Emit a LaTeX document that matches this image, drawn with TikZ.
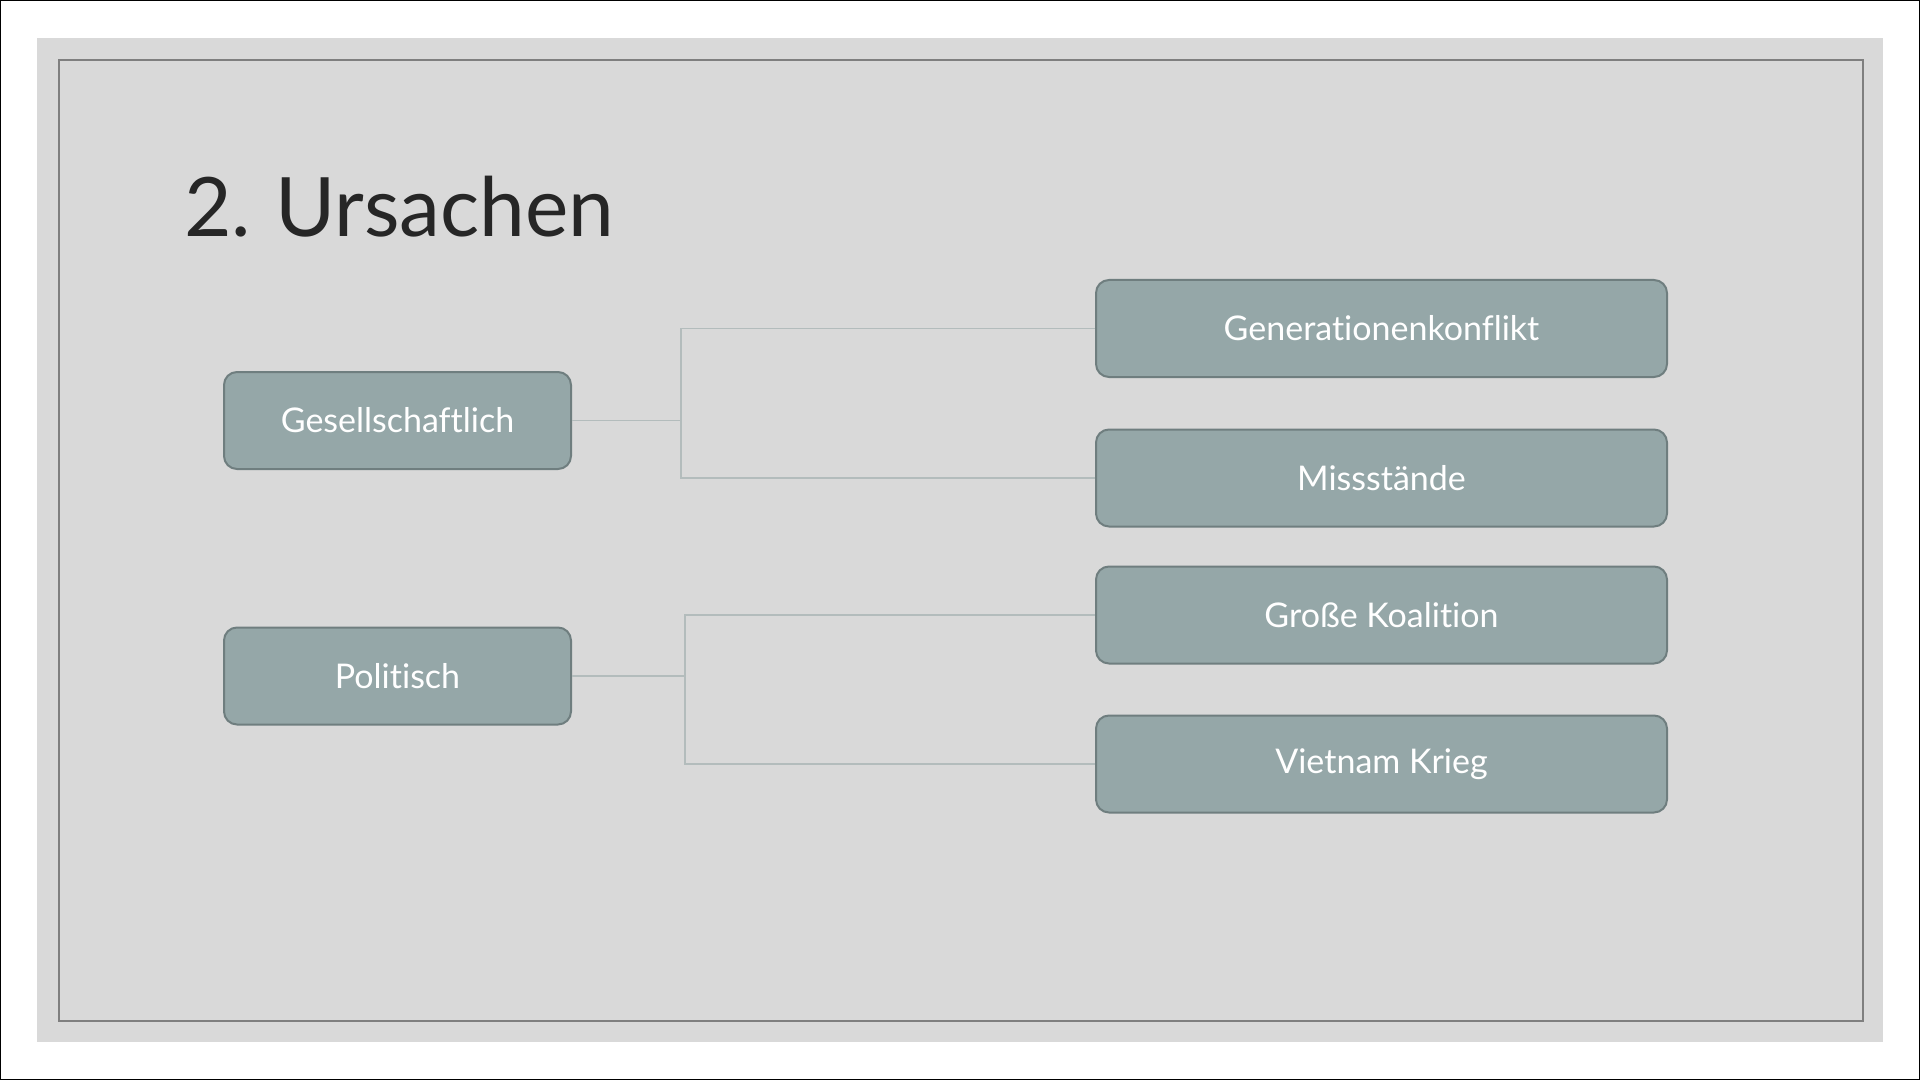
\documentclass[tikz,border=0pt]{standalone}
\usepackage{fontspec}
\setmainfont{Lato}[Ligatures=NoCommon]
\usepackage{xcolor}
\usepackage{tikz}
\definecolor{slidegray}{HTML}{D9D9D9}
\definecolor{framegray}{HTML}{7F7F7F}
\definecolor{boxfill}{HTML}{95A7A8}
\definecolor{boxline}{HTML}{6F7E7F}
\definecolor{linkgray}{HTML}{B3BCBC}
\definecolor{titleink}{HTML}{262626}

\begin{document}
\begin{tikzpicture}[x=0.5pt, y=-0.5pt]
    \tikzset{cause/.style = {shape=rectangle, rounded corners=6.5pt, draw=boxline, line width=1pt,
        fill=boxfill, text=white, font=\fontsize{17}{20}\selectfont, inner sep=0pt,
        minimum height=48.5pt}}
    \tikzset{link/.style = {draw=linkgray, line width=0.8pt}}

    \useasboundingbox (0,0) rectangle (1920,1080);
    \draw[black, line width=0.6pt] (0.5,0.5) rectangle (1919.5,1079.5);
    \fill[slidegray] (37,38) rectangle (1883,1042);
    \draw[framegray, line width=1pt] (59,60) rectangle (1863,1021);

    \node[anchor=base west, text=titleink, font=\fontsize{41}{48}\selectfont, inner sep=0pt]
        (title) at (184,237) {2.\kern-2pt{} Ursachen};

    \node[cause, minimum width=173.5pt] (gesell) at (397.5,420.5) {Gesellschaftlich};
    \node[cause, minimum width=173.5pt] (polit) at (397.5,676) {Politisch};
    \node[cause, minimum width=285.5pt] (gener) at (1381.5,328.5) {Generationenkonflikt};
    \node[cause, minimum width=285.5pt] (miss) at (1381.5,478) {Missstände};
    \node[cause, minimum width=285.5pt] (koal) at (1381.5,615) {Große Koalition};
    \node[cause, minimum width=285.5pt] (viet) at (1381.5,764) {Vietnam Krieg};

    \coordinate (jgesell) at (681,420.5);
    \coordinate (jpolit) at (685,676);

    \draw[link] (gesell) -- (jgesell);
    \draw[link] (jgesell) |- (gener);
    \draw[link] (jgesell) |- (miss);
    \draw[link] (polit) -- (jpolit);
    \draw[link] (jpolit) |- (koal);
    \draw[link] (jpolit) |- (viet);
  \end{tikzpicture}
\end{document}
